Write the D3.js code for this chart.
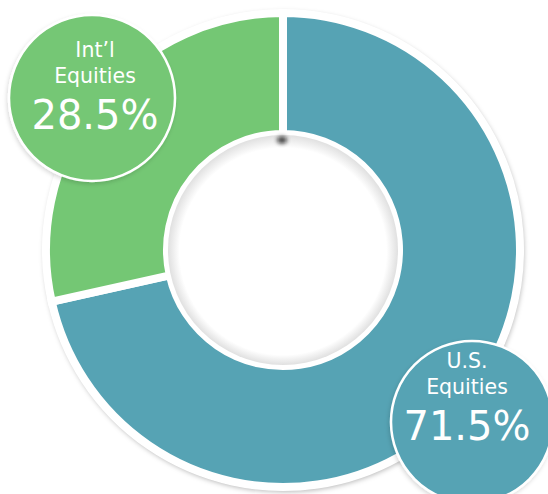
<!DOCTYPE html>
<html><head><meta charset="utf-8">
<script src="https://cdn.jsdelivr.net/npm/d3@7"></script>
<style>html,body{margin:0;padding:0;background:#fff;} svg{display:block;}</style>
</head><body><svg id="c" width="548" height="494"></svg>
<script>
// ---- data ----
const categories = ["U.S. Equities", "Int'l Equities"];
const values = [71.5, 28.5];
const colors = ["#56a3b4", "#74c774"];
const labelLines = [["U.S.", "Equities"], ["Int\u2019l", "Equities"]];
const labelValues = ["71.5%", "28.5%"];
// ---- layout ----
const W = 548, H = 494;
const cx = 283, cy = 250;
const rOuter = 233, rInner = 120, gap = 8;
const labelCircles = [{x: 472, y: 422, r: 81, tx: 467, ty: 368}, {x: 92, y: 98, r: 83, tx: 95, ty: 57}];

const svg = d3.select("#c");
const defs = svg.append("defs");
const ds = defs.append("filter").attr("id", "ds").attr("x", "-20%").attr("y", "-20%").attr("width", "140%").attr("height", "140%");
ds.append("feDropShadow").attr("dx", 1).attr("dy", 2).attr("stdDeviation", 2.5).attr("flood-color", "#000").attr("flood-opacity", 0.28);
const ds2 = defs.append("filter").attr("id", "ds2").attr("x", "-20%").attr("y", "-20%").attr("width", "140%").attr("height", "140%");
ds2.append("feDropShadow").attr("dx", -1).attr("dy", 2).attr("stdDeviation", 2).attr("flood-color", "#000").attr("flood-opacity", 0.15);
const blur = defs.append("filter").attr("id", "bl").attr("x", "-100%").attr("y", "-100%").attr("width", "300%").attr("height", "300%");
blur.append("feGaussianBlur").attr("stdDeviation", 2);
const rg = defs.append("radialGradient").attr("id", "inner").attr("cx", "50%").attr("cy", "50%").attr("r", "50%").attr("fx", "50%").attr("fy", "56%");
rg.append("stop").attr("offset", "0%").attr("stop-color", "#fff");
rg.append("stop").attr("offset", "90%").attr("stop-color", "#fff");
rg.append("stop").attr("offset", "100%").attr("stop-color", "#e0e0e0");

const g = svg.append("g").attr("transform", `translate(${cx},${cy})`);
// outer white rim with shadow
g.append("circle").attr("r", rOuter + 7).attr("fill", "#fff").attr("filter", "url(#ds)");

const pie = d3.pie().sort(null).value(d => d);
const arc = d3.arc().innerRadius(rInner - gap / 2).outerRadius(rOuter + gap / 2);
g.selectAll("path.slice").data(pie(values)).join("path")
  .attr("class", "slice")
  .attr("d", arc)
  .attr("fill", (d, i) => colors[i])
  .attr("stroke", "#fff").attr("stroke-width", gap).attr("stroke-linejoin", "miter");

// inner disk with inset shadow
g.append("circle").attr("r", rInner - 5).attr("fill", "url(#inner)");
g.append("ellipse").attr("cx", -1).attr("cy", -(rInner - 10)).attr("rx", 5).attr("ry", 3.5).attr("fill", "#111").attr("opacity", 0.8).attr("filter", "url(#bl)");

// label bubbles
const lab = svg.selectAll("g.lab").data(values).join("g").attr("class", "lab");
lab.append("circle")
  .attr("cx", (d, i) => labelCircles[i].x).attr("cy", (d, i) => labelCircles[i].y).attr("r", (d, i) => labelCircles[i].r)
  .attr("fill", (d, i) => colors[i]).attr("stroke", "#fff").attr("stroke-width", 2.5).attr("filter", "url(#ds2)");
const font = "'DejaVu Sans', sans-serif";
lab.each(function(d, i) {
  const L = labelCircles[i];
  const sel = d3.select(this);
  labelLines[i].forEach((t, j) => {
    sel.append("text").attr("x", L.tx).attr("y", L.ty + j * 25.5).attr("text-anchor", "middle")
      .attr("fill", "#fff").attr("font-family", font).attr("font-weight", 400).attr("font-size", 20.5).text(t);
  });
  sel.append("text").attr("x", L.tx).attr("y", L.ty + 71.5).attr("text-anchor", "middle")
    .attr("fill", "#fff").attr("font-family", font).attr("font-weight", 400).attr("font-size", 40).text(labelValues[i]);
});
</script></body></html>
